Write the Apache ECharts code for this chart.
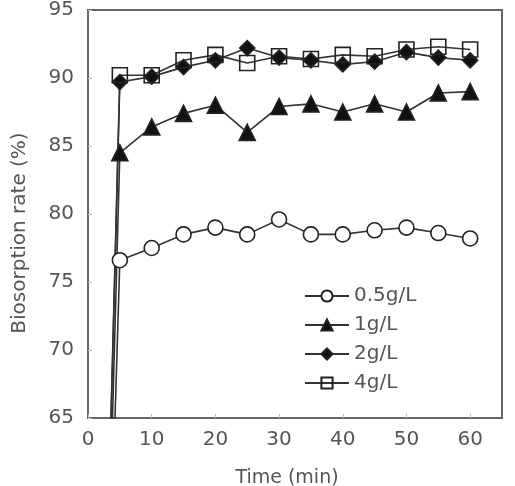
<!DOCTYPE html>
<html>
<head>
<meta charset="utf-8">
<script src="https://cdn.jsdelivr.net/npm/echarts@6/dist/echarts.min.js"></script>
<style>
  html, body { margin: 0; padding: 0; background: #fff; }
  #chart { width: 515px; height: 486px; }
</style>
</head>
<body>
<div id="chart"></div>
<script>
// 时间 (min)
var times = [0, 5, 10, 15, 20, 25, 30, 35, 40, 45, 50, 55, 60];
var seriesNames = ['0.5g/L', '1g/L', '2g/L', '4g/L'];
var rate05 = [0, 76.6, 77.5, 78.5, 79.0, 78.5, 79.6, 78.5, 78.5, 78.8, 79.0, 78.6, 78.2];
var rate1 = [0, 84.5, 86.4, 87.4, 88.0, 86.0, 87.9, 88.1, 87.5, 88.1, 87.5, 88.9, 89.0];
var rate2 = [0, 89.7, 90.1, 90.8, 91.3, 92.2, 91.5, 91.3, 91.0, 91.2, 91.9, 91.5, 91.3];
var rate4 = [0, 90.2, 90.2, 91.3, 91.7, 91.1, 91.6, 91.4, 91.7, 91.6, 92.1, 92.3, 92.1];

function pairs(vals) {
    return times.map(function (t, i) {
        if (i === 0) {
            return { value: [t, vals[i]], symbol: 'none' };
        }
        return [t, vals[i]];
    });
}

var font = 'DejaVu Sans';
var labelColor = '#555';

var myChart = echarts.init(document.getElementById('chart'));

function makeSeries(name, vals, symbol, size, fill) {
    return {
        name: name,
        type: 'line',
        data: pairs(vals),
        symbol: symbol,
        symbolSize: size,
        clip: true,
        lineStyle: { color: '#333', width: 1.6 },
        itemStyle: { color: fill, borderColor: '#222', borderWidth: 1.6 },
        emphasis: { disabled: true }
    };
}

myChart.setOption({
    animation: false,
    backgroundColor: '#fff',
    grid: {
        left: 88,
        right: 13,
        top: 10,
        bottom: 68,
        outerBoundsMode: 'none',
        containLabel: false,
        show: true,
        borderColor: '#666',
        borderWidth: 2
    },
    legend: {
        orient: 'vertical',
        left: 299,
        top: 281,
        itemWidth: 44,
        itemHeight: 14,
        itemGap: 9,
        textStyle: { fontFamily: font, fontSize: 20, color: labelColor },
        data: seriesNames
    },
    xAxis: {
        type: 'value',
        min: 0,
        max: 65,
        interval: 10,
        name: 'Time (min)',
        nameLocation: 'middle',
        nameGap: 51,
        nameTextStyle: { fontFamily: font, fontSize: 19, color: labelColor, padding: [0, 16, 0, 0] },
        axisLine: { show: true, lineStyle: { color: '#666', width: 2 } },
        axisTick: { show: true, inside: true, length: 4, lineStyle: { color: '#bbb' } },
        splitLine: { show: false },
        axisLabel: { fontFamily: font, fontSize: 20, color: labelColor, margin: 12, showMaxLabel: false }
    },
    yAxis: {
        type: 'value',
        min: 65,
        max: 95,
        interval: 5,
        name: 'Biosorption rate (%)',
        nameLocation: 'middle',
        nameGap: 58,
        nameTextStyle: { fontFamily: font, fontSize: 20, color: labelColor, padding: [0, 38, 0, 0] },
        axisLine: { show: true, lineStyle: { color: '#666', width: 2 } },
        axisTick: { show: true, inside: true, length: 4, lineStyle: { color: '#bbb' } },
        splitLine: { show: false },
        axisLabel: { fontFamily: font, fontSize: 20, color: labelColor, margin: 14 }
    },
    series: [
        makeSeries('0.5g/L', rate05, 'circle', 15, '#fff'),
        makeSeries('1g/L', rate1, 'triangle', 16, '#111'),
        makeSeries('2g/L', rate2, 'diamond', 15, '#111'),
        makeSeries('4g/L', rate4, 'rect', 15, 'rgba(255,255,255,0)')
    ]
});
</script>
</body>
</html>
